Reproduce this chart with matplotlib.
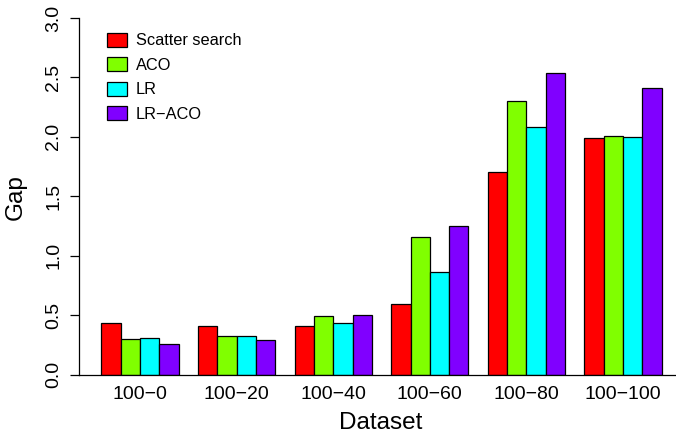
import numpy as np
import matplotlib
matplotlib.use("Agg")
import matplotlib.pyplot as plt

plt.rcParams['font.family'] = ['Liberation Sans', 'DejaVu Sans']

# gap per dataset for each method
datasets = ["100\u22120", "100\u221220", "100\u221240", "100\u221260", "100\u221280", "100\u2212100"]
methods = ["Scatter search", "ACO", "LR", "LR\u2212ACO"]
scatter_search = [0.43, 0.41, 0.41, 0.59, 1.70, 1.99]
aco = [0.30, 0.325, 0.49, 1.16, 2.30, 2.01]
lr = [0.31, 0.32, 0.43, 0.86, 2.08, 2.00]
lr_aco = [0.26, 0.29, 0.50, 1.25, 2.54, 2.41]
colors = ["#FF0000", "#80FF00", "#00FFFF", "#8000FF"]

W, H = 676, 438
fig = plt.figure(figsize=(W / 100, H / 100), dpi=100)

# plot region in pixels (R-style barplot layout)
left, right, top, bottom = 79, 676, 18, 374.5
ax = fig.add_axes([left / W, 1 - bottom / H, (right - left) / W, (bottom - top) / H])

series = [scatter_search, aco, lr, lr_aco]
n_groups = len(datasets)
# beside=TRUE, space=c(0,1): each group takes 4 bars + 1 gap
group_start = 1 + 5 * np.arange(n_groups)
for k, (vals, col, name) in enumerate(zip(series, colors, methods)):
    ax.bar(group_start + k, vals, width=1.0, align='edge', color=col,
           edgecolor='black', linewidth=0.9, label=name)

ax.set_xlim(-0.16, -0.16 + (right - left) / 19.32)
ax.set_ylim(0, 3.0)

ax.set_xticks(group_start + 2)
ax.set_xticklabels(datasets, fontsize=14)
ax.tick_params(axis='x', length=0, pad=8)

ax.set_yticks(np.arange(0, 3.01, 0.5))
ax.set_yticklabels(["%.1f" % v for v in np.arange(0, 3.01, 0.5)],
                   rotation=90, va='center', fontsize=14)
ax.tick_params(axis='y', length=6.5, width=0.9, pad=5.5)

for s in ['top', 'right']:
    ax.spines[s].set_visible(False)
ax.spines['left'].set_linewidth(0.9)
ax.spines['bottom'].set_linewidth(0.9)

fig.text(381 / W, 1 - 423 / H, "Dataset", ha='center', va='center', fontsize=17.5)
fig.text(16 / W, 1 - 197 / H, "Gap", ha='center', va='center', rotation=90, fontsize=17.5)

ax.legend(loc='upper left', bbox_to_anchor=(107 / W, 1 - 33 / H),
          bbox_transform=fig.transFigure, frameon=False, fontsize=11.8,
          handlelength=1.2, handleheight=0.9, handletextpad=0.55,
          labelspacing=0.55, borderaxespad=0, borderpad=0)

fig.savefig("out.png", dpi=100)
